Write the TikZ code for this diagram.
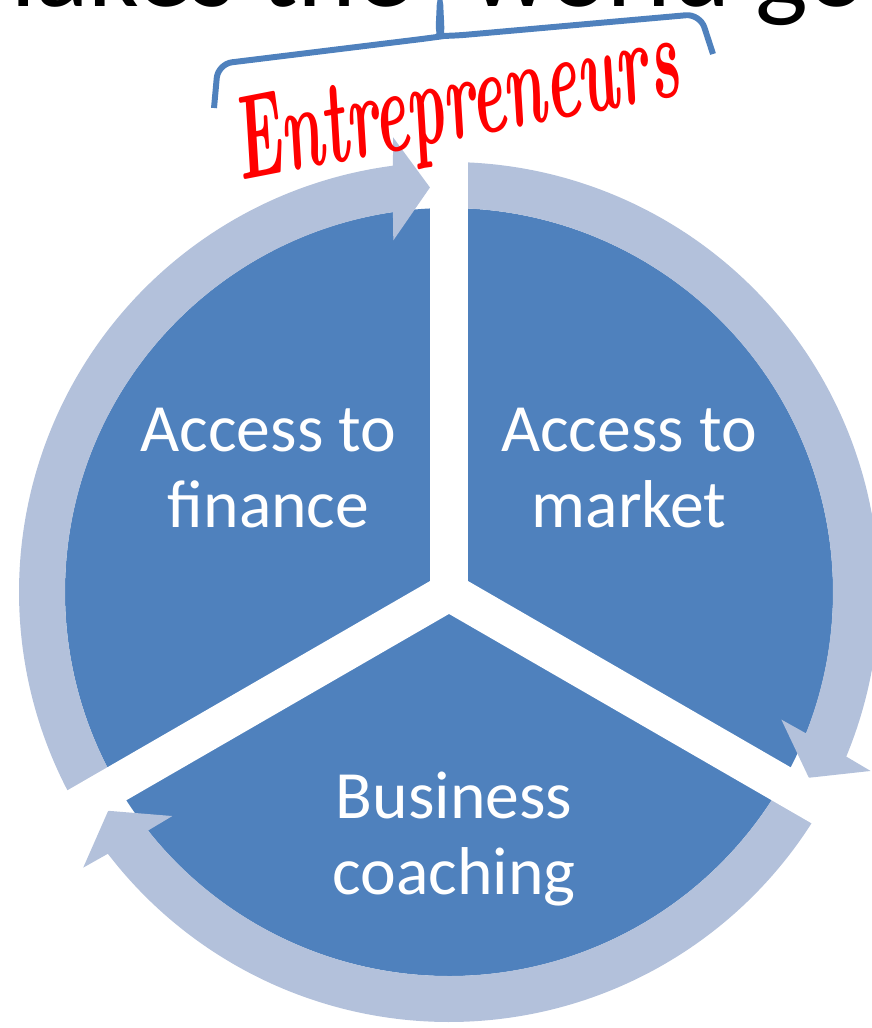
\documentclass[tikz,border=0pt]{standalone}
\usepackage{fontspec}
\newfontfamily\calibri{Carlito}
\definecolor{segBlue}{HTML}{4F81BD}
\definecolor{ringBlue}{HTML}{B3C1DB}

\begin{document}
\begin{tikzpicture}
  [x=0.02cm,y=0.02cm,
  seg/.style={fill=segBlue},
  ring/.style={fill=ringBlue},
  cut/.style={draw=white,line width=0.76cm},
  lab/.style={text=white,align=center,inner sep=0pt,
    font=\calibri\fontsize{38.5}{43}\selectfont},
  hand/.style={text=red,anchor=base,inner sep=0pt,
    font=\bfseries\itshape\fontsize{40}{40}\selectfont},
  brace/.style={draw=segBlue,line width=3.4pt,rounded corners=8pt}]

  \useasboundingbox (0,0) rectangle (872,-1028);
  \clip (0,0) rectangle (872,-1028);

  \node[anchor=base west,inner sep=0pt,font=\calibri\fontsize{63.5}{63.5}\selectfont]
    (ttl) at (-54,-6) {makes the\hspace{0.66cm} world go};

  \coordinate (c) at (449,-592);

  \begin{scope}[shift={(c)}]
    % segments
    \fill[seg] (0,0) -- (90:384) arc[start angle=90,end angle=210,radius=384] -- cycle;
    \fill[seg] (0,0) -- (-30:384) arc[start angle=-30,end angle=90,radius=384] -- cycle;
    \fill[seg] (0,0) -- (210:384) arc[start angle=210,end angle=330,radius=384] -- cycle;

    % arrows round the rim
    \foreach \a in {90,210,330}
      \fill[ring] (\a:384) arc[start angle=\a,end angle=\a-111.6,radius=384]
        -- (\a-111:356) -- (\a-117.3:405) -- (\a-113:458) -- (\a-112.5:430)
        arc[start angle=\a-112.5,end angle=\a,radius=430] -- cycle;

    % gaps
    \foreach \a in {90,210,330}
      \draw[cut] (0,0) -- (\a:480);
  \end{scope}

  \node[lab] (fin) at (268.5,-468) {Access to\\finance};
  \node[lab] (mkt) at (629,-468) {Access to\\market};
  \node[lab] (coach) at (454,-839) {Business\\coaching};

  \draw[brace] (214,-108) -- (218,-64) -- (430,-38)
    .. controls (437,-37) and (439,-25) .. (440,5)
    .. controls (441,-25) and (443,-36) .. (452,-36)
    -- (700,-14) -- (713,-54);

  \begin{scope}[shift={(462,-138)}]
    \node[hand,rotate=11] (ent) at (0,0) {\scalebox{0.9}[1.7]{Entrepreneurs}};
  \end{scope}
\end{tikzpicture}
\end{document}
